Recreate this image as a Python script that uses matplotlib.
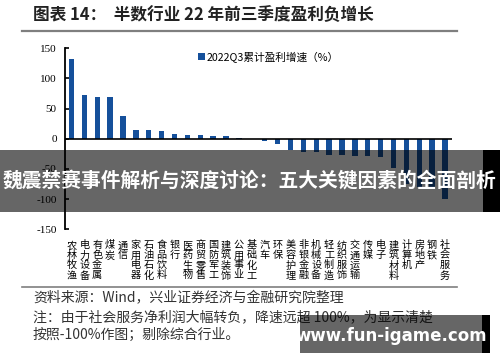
import matplotlib
matplotlib.use("Agg")
import matplotlib.pyplot as plt
from matplotlib.lines import Line2D
from matplotlib.patches import Rectangle

plt.rcParams['font.family'] = ['Noto Sans CJK SC', 'DejaVu Sans']

# industries, left to right
industries = ["农林牧渔", "电力设备", "有色金属", "煤炭", "通信", "家用电器", "石油石化",
              "食品饮料", "银行", "医药生物", "商贸零售", "国防军工", "建筑装饰", "公用事业",
              "基础化工", "汽车", "环保", "美容护理", "非银金融", "机械设备", "轻工制造",
              "纺织服饰", "交通运输", "传媒", "电子", "建筑材料", "计算机", "房地产",
              "钢铁", "社会服务"]
growth = [133, 73, 70, 69, 38, 14, 14, 13, 8, 7, 6.5, 5, 4.5, 2,
          -0.5, -4, -8, -18, -22, -22, -27, -27, -28, -29, -31,
          -48, -75, -80, -82, -100]
yticks = [150, 100, 50, 0, -50, -100, -150]

series_name = "2022Q3累计盈利增速（%）"
title = "图表 14：  半数行业 22 年前三季度盈利负增长"
source = "资料来源：Wind，兴业证券经济与金融研究院整理"
note1 = "注：由于社会服务净利润大幅转负，降速远超 100%，为显示清楚"
note2 = "按照-100%作图；剔除综合行业。"
banner = "魏震禁赛事件解析与深度讨论：五大关键因素的全面剖析"
site = "www.fun-igame.com"

bar_color = "#15509b"

fig = plt.figure(figsize=(5, 3.62), dpi=100)
ax = fig.add_axes([0.13, 0.3666, 0.773, 0.50])

x = range(len(industries))
ax.bar(x, growth, width=0.42, color=bar_color, label=series_name, zorder=2)
ax.axhline(0, color="black", lw=1.2, zorder=3)

ax.set_xlim(-0.5, len(industries) - 0.5)
ax.set_ylim(-150, 150)
ax.set_yticks(yticks)
ax.set_yticklabels([str(v) for v in yticks], family="Liberation Serif", fontsize=8)
ax.tick_params(axis="y", direction="in", length=3, width=1.2, pad=6)

ax.set_xticks(list(x))
ax.set_xticklabels(["\n".join(name) for name in industries], fontsize=7.3,
                   linespacing=1.0, va="top")
ax.tick_params(axis="x", length=0, pad=8)

for side in ("top", "right", "bottom"):
    ax.spines[side].set_visible(False)
ax.spines["left"].set_linewidth(1.3)

leg = ax.legend(loc="upper left", bbox_to_anchor=(0.32, 1.035), frameon=False,
                fontsize=7.7, handlelength=0.6, handleheight=0.6, handletextpad=0.2)

# title and rules
fig.text(0.066, 0.958, title, fontsize=12, fontweight="bold", color="#222222",
         va="center", ha="left")
fig.add_artist(Line2D([0.044, 0.914], [1 - 31 / 362] * 2, color="#7f7f7f", lw=1.6))
fig.add_artist(Line2D([0.044, 0.914], [1 - 287 / 362] * 2, color="#7f7f7f", lw=1.2))

fig.text(0.066, 1 - 298 / 362, source, fontsize=10, va="center", color="#333333")
fig.text(0.066, 1 - 317 / 362, note1, fontsize=10, va="center", color="#333333")
fig.text(0.066, 1 - 335 / 362, note2, fontsize=10, va="center", color="#333333")

# overlay banners
fig.add_artist(Rectangle((0, 1 - 212 / 362), 483 / 500, 62 / 362, transform=fig.transFigure,
                         facecolor="black", alpha=0.6, edgecolor="none", zorder=10))
fig.add_artist(Rectangle((483 / 500, 1 - 212 / 362), 17 / 500, 62 / 362,
                         transform=fig.transFigure, facecolor="black",
                         edgecolor="none", zorder=10))
fig.text(0.498, 1 - 181 / 362, banner, fontsize=14.2, fontweight="bold", color="white",
         ha="center", va="center", zorder=11)

fig.add_artist(Rectangle((300 / 500, 1 - 353 / 362), 182 / 500, 38 / 362,
                         transform=fig.transFigure, facecolor="black", alpha=0.6,
                         edgecolor="none", zorder=10))
fig.add_artist(Rectangle((482 / 500, 1 - 353 / 362), 8 / 500, 38 / 362,
                         transform=fig.transFigure, facecolor="black",
                         edgecolor="none", zorder=10))
fig.text(391 / 500, 1 - 336 / 362, site, family="DejaVu Sans", fontsize=12,
         fontweight="bold", color="white", ha="center", va="center", zorder=11)

fig.savefig("out.png", dpi=100)
